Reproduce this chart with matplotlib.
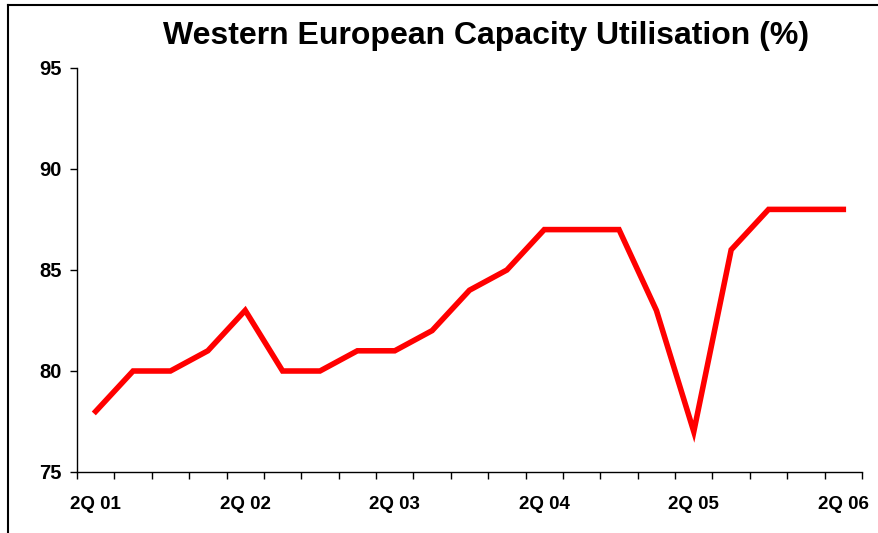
import matplotlib
matplotlib.use("Agg")
import matplotlib.pyplot as plt
from matplotlib.lines import Line2D

quarters = ["2Q 01", "3Q 01", "4Q 01", "1Q 02", "2Q 02", "3Q 02", "4Q 02", "1Q 03",
            "2Q 03", "3Q 03", "4Q 03", "1Q 04", "2Q 04", "3Q 04", "4Q 04", "1Q 05",
            "2Q 05", "3Q 05", "4Q 05", "1Q 06", "2Q 06"]
utilisation = [78, 80, 80, 81, 83, 80, 80, 81, 81, 82, 84, 85, 87, 87, 87, 83, 77, 86, 88, 88, 88]
y_ticks = [75, 80, 85, 90, 95]

plt.rcParams['font.family'] = ['Liberation Sans', 'DejaVu Sans']
fig = plt.figure(figsize=(8.79, 5.33), dpi=100)
ax = fig.add_axes([77/879, 1-472/533, (862-77)/879, (472-68)/533])

x = list(range(len(quarters)))
ax.plot(x, utilisation, color='#ff0000', lw=4, solid_joinstyle='miter')

ax.set_xlim(-0.5, len(quarters) - 0.5)
ax.set_ylim(75, 95)
ax.set_yticks(y_ticks)
ax.set_yticklabels([str(v) for v in y_ticks], fontsize=14.5, fontweight='bold')
ax.set_xticks([i - 0.5 for i in range(len(quarters) + 1)])
ax.set_xticklabels([])
ax.set_xticks(x[::4], minor=True)
ax.set_xticklabels(quarters[::4], minor=True, fontsize=13.5, fontweight='bold')
ax.tick_params(axis='x', which='minor', length=0, pad=17)
ax.tick_params(axis='x', which='major', length=5, width=1, direction='out')
ax.tick_params(axis='y', length=5, width=1, direction='out', pad=6)
for s in ['top', 'right']:
    ax.spines[s].set_visible(False)
for s in ['left', 'bottom']:
    ax.spines[s].set_linewidth(1)

fig.text(486/879, 1-36/533, "Western European Capacity Utilisation (%)",
         ha='center', va='center', fontsize=23, fontweight='bold')

# outer border lines (left and top)
fig.add_artist(Line2D([8/879, 8/879], [0, 1-5/533], transform=fig.transFigure, color='black', lw=1.5))
fig.add_artist(Line2D([8/879, 1], [1-5/533, 1-5/533], transform=fig.transFigure, color='black', lw=1.5))

fig.savefig("out.png", dpi=100)
